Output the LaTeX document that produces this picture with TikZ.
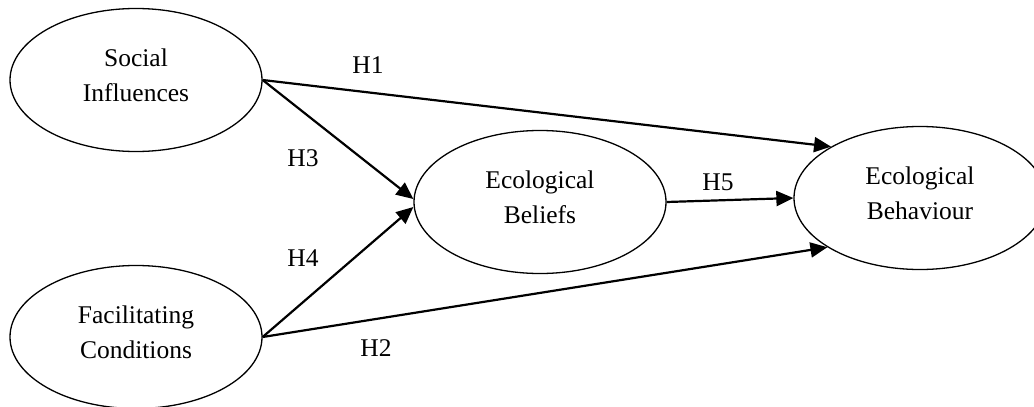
\documentclass[tikz,border=0pt]{standalone}
\usepackage{fontspec}
\setmainfont{Liberation Serif}
\usepackage{tikz}
\usetikzlibrary{shapes.geometric,arrows.meta}

\begin{document}
\begin{tikzpicture}[x=1pt,y=-1pt,
            construct/.style={shape=ellipse, draw, line width=1.3pt, inner sep=0pt,
                minimum width=252pt, minimum height=143pt, align=center, text depth=10pt,
                font=\fontsize{25.5}{35}\selectfont},
            hyparrow/.style={line width=2.2pt, -{Triangle[length=17pt,width=15pt]}},
            hyplabel/.style={font=\fontsize{25.5}{35}\selectfont}]
        \useasboundingbox (0,0) rectangle (1034,407);

        \node[construct] (social) at (136,80) {Social\\Influences};
        \node[construct] (facil) at (136,337) {Facilitating\\Conditions};
        \node[construct] (beliefs) at (540,202) {Ecological\\Beliefs};
        \node[construct] (behav) at (920,198) {Ecological\\Behaviour};

        \draw[hyparrow] (social.east) -- (behav.150);
        \draw[hyparrow] (social.east) -- ([yshift=3pt]beliefs.west);
        \draw[hyparrow] (facil.east) -- ([yshift=-5pt]beliefs.west);
        \draw[hyparrow] (facil.east) -- (behav.208);
        \draw[hyparrow] (beliefs.east) -- (behav.west);

        \node[hyplabel] (h1) at (368,65) {H1};
        \node[hyplabel] (h3) at (303,158) {H3};
        \node[hyplabel] (h4) at (303,258) {H4};
        \node[hyplabel] (h5) at (718,182) {H5};
        \node[hyplabel] (h2) at (376,348) {H2};
    \end{tikzpicture}
\end{document}
